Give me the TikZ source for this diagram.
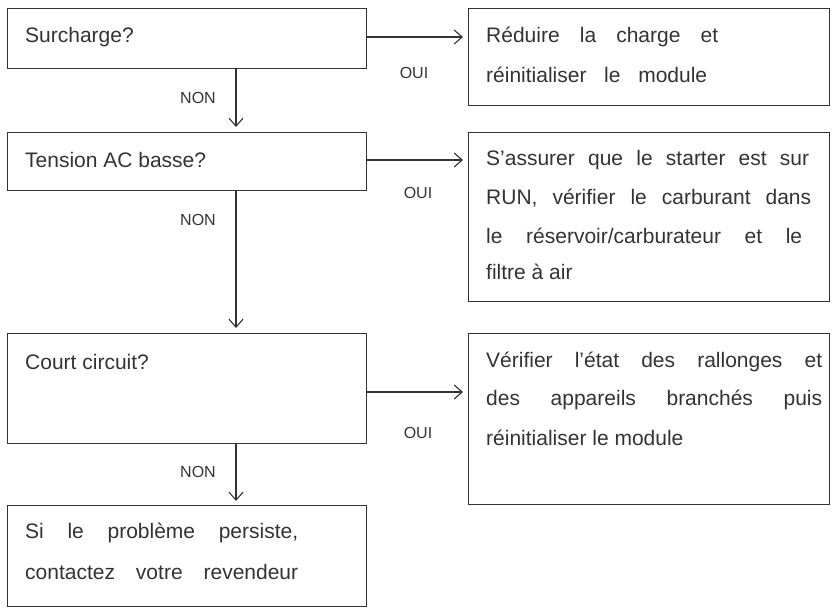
\documentclass[tikz,border=0pt]{standalone}
\usepackage{fontspec}
\setmainfont{Liberation Sans}
\usetikzlibrary{arrows.meta}
\newsavebox\jlbox
\newcommand\jl[2]{\sbox\jlbox{#2}%
  \ifdim\wd\jlbox>#1\relax
    \pgfmathsetmacro\jlr{#1/\wd\jlbox}\scalebox{\jlr}[1]{\usebox\jlbox}%
  \else\makebox[#1][s]{#2}\fi}
\definecolor{ink}{HTML}{333333}
\begin{document}
\begin{tikzpicture}[x=1pt,y=-1pt,
  box/.style={draw=ink,line width=1.1pt,anchor=north west,inner sep=0pt},
  txt/.style={anchor=west,font=\fontsize{21}{25}\selectfont,inner sep=0pt,text=ink},
  lab/.style={font=\fontsize{16}{18}\selectfont,inner sep=0pt,text=ink},
  arr/.style={draw=ink,-{Straight Barb[length=8pt,width=14pt,line width=1.1pt]},line width=1.1pt}]
\useasboundingbox (0,0) rectangle (835,612);
% left boxes
\node[box,minimum width=359pt,minimum height=60pt] (l1) at (7,8) {};
\node[box,minimum width=359pt,minimum height=58pt] (l2) at (7,132) {};
\node[box,minimum width=359pt,minimum height=110pt] (l3) at (7,333) {};
\node[box,minimum width=359pt,minimum height=101pt] (l4) at (7,505) {};
% right boxes
\node[box,minimum width=361pt,minimum height=97pt] (r1) at (468,8) {};
\node[box,minimum width=361pt,minimum height=169pt] (r2) at (468,132) {};
\node[box,minimum width=361pt,minimum height=171pt] (r3) at (468,333) {};
% left texts
\node[txt] (t1) at (25,37) {Surcharge?};
\node[txt] (t2) at (25,160) {Tension AC basse?};
\node[txt] (t3) at (25,362) {Court circuit?};
\node[txt] (t4a) at (25,533) {\jl{273pt}{Si le problème persiste,}};
\node[txt] (t4b) at (25,572) {\jl{273pt}{contactez votre revendeur}};
% right texts
\node[txt] (s1a) at (486,37) {\jl{232pt}{Réduire la charge et}};
\node[txt] (s1b) at (486,75) {\jl{221pt}{réinitialiser le module}};
\node[txt] (s2a) at (486,160) {\jl{323pt}{S’assurer que le starter est sur}};
\node[txt] (s2b) at (486,198) {\jl{325pt}{RUN, vérifier le carburant dans}};
\node[txt] (s2c) at (486,236) {\jl{316pt}{le réservoir/carburateur et le}};
\node[txt] (s2d) at (486,272) {filtre à air};
\node[txt] (s3a) at (486,362) {\jl{336pt}{Vérifier l’état des rallonges et}};
\node[txt] (s3b) at (486,400) {\jl{336pt}{des appareils branchés puis}};
\node[txt] (s3c) at (486,438) {réinitialiser le module};
% arrows
\coordinate (a1) at (366,37); \coordinate (b1) at (463,37);
\draw[arr] (a1) -- (b1);
\coordinate (a2) at (366,160); \coordinate (b2) at (463,160);
\draw[arr] (a2) -- (b2);
\coordinate (a3) at (366,392); \coordinate (b3) at (463,392);
\draw[arr] (a3) -- (b3);
\coordinate (v1) at (236,68); \coordinate (w1) at (236,127);
\draw[arr] (v1) -- (w1);
\coordinate (v2) at (236,190); \coordinate (w2) at (236,328);
\draw[arr] (v2) -- (w2);
\coordinate (v3) at (236,443); \coordinate (w3) at (236,501);
\draw[arr] (v3) -- (w3);
\node[lab] (o1) at (414,73) {OUI};
\node[lab] (o2) at (418,193) {OUI};
\node[lab] (o3) at (418,433) {OUI};
\node[lab] (n1) at (198,98) {NON};
\node[lab] (n2) at (198,220) {NON};
\node[lab] (n3) at (198,472) {NON};
\end{tikzpicture}
\end{document}
